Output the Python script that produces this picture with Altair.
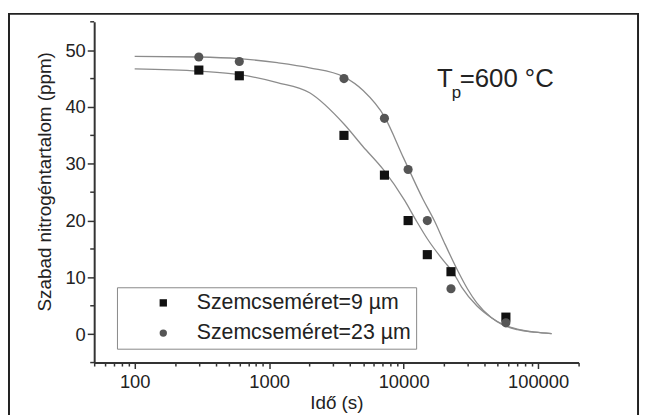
import altair as alt
import pandas as pd

times = [300, 600, 3600, 7200, 10800, 15000, 22500, 57600]
conc_9um = [46.5, 45.5, 35.0, 28.0, 20.0, 14.0, 11.0, 3.0]
conc_23um = [48.8, 48.0, 45.0, 38.0, 29.0, 20.0, 8.0, 2.0]

# ---- fitted curves ----
fit9_t = [100, 300, 600, 1150, 2000, 3600, 5000, 7050, 10200, 12400, 15000,
          20000, 23300, 27000, 35000, 45000, 55000, 70000, 95000, 126000]
fit9_c = [46.7, 46.3, 45.7, 44.3, 42.5, 37.0, 33.0, 29.0, 23.5, 20.0, 16.8,
          12.8, 10.9, 8.3, 5.0, 2.9, 1.7, 0.9, 0.35, 0.1]
fit23_t = [100, 300, 600, 1150, 2000, 3600, 5000, 7200, 10000, 13900, 16900,
           20000, 25600, 29800, 35000, 45000, 55000, 70000, 95000, 126000]
fit23_c = [48.9, 48.8, 48.5, 47.8, 46.9, 45.3, 42.9, 38.3, 31.0, 23.8, 20.0,
           16.2, 10.9, 8.0, 5.5, 2.9, 1.6, 0.8, 0.35, 0.1]

label9 = "Szemcseméret=9 µm"
label23 = "Szemcseméret=23 µm"

x_ticks = [50, 60, 70, 80, 90, 100, 200, 300, 400, 500, 600, 700, 800, 900,
           1000, 2000, 3000, 4000, 5000, 6000, 7000, 8000, 9000,
           10000, 20000, 30000, 40000, 50000, 60000, 70000, 80000, 90000,
           100000, 200000]
y_major = [0, 10, 20, 30, 40, 50]
y_minor = [-5, 5, 15, 25, 35, 45, 55]

FONT = "Liberation Sans"
INK = "#222222"

points = pd.DataFrame({
    "t": times + times,
    "c": conc_9um + conc_23um,
    "series": [label9] * len(times) + [label23] * len(times),
})
fits = pd.DataFrame({
    "t": fit9_t + fit23_t,
    "c": fit9_c + fit23_c,
    "series": [label9] * len(fit9_t) + [label23] * len(fit23_t),
})
minor = pd.DataFrame({"c": y_minor})
one = pd.DataFrame({"a": [0]})

x_scale = alt.Scale(type="log", domain=[50, 200000], nice=False)
y_scale = alt.Scale(domain=[-5, 55], nice=False, zero=False)

x_axis = alt.Axis(
    title="Idő (s)", values=x_ticks, grid=False,
    labelExpr="(datum.value==100||datum.value==1000||datum.value==10000||datum.value==100000) ? datum.label : ''",
    format="d",
    tickSize={"condition": {"test": "datum.value==100||datum.value==1000||datum.value==10000||datum.value==100000", "value": 6}, "value": 3.5},
    domainColor="#333333", domainWidth=2, tickColor="#333333", tickWidth=1.5,
    labelFont=FONT, labelFontSize=18.5, labelColor=INK, labelPadding=4, labelFlush=False,
    titleFont=FONT, titleFontSize=19, titleFontWeight="normal", titleColor=INK,
    titleY=31, titleBaseline="top",
)
y_axis = alt.Axis(
    title="Szabad nitrogéntartalom (ppm)", values=y_major, grid=False,
    tickSize=7,
    domainColor="#333333", domainWidth=2, tickColor="#333333", tickWidth=1.5,
    labelFont=FONT, labelFontSize=18.5, labelColor=INK, labelPadding=2, labelFlush=False,
    titleFont=FONT, titleFontSize=19, titleFontWeight="normal", titleColor=INK,
    titleX=-40, titleY=161,
)

frame = alt.Chart(one).mark_rect(fillOpacity=0, stroke="#222222", strokeWidth=2).encode(
    x=alt.value(-86), x2=alt.value(549), y=alt.value(-8), y2=alt.value(440)
)

lines = alt.Chart(fits).mark_line(color="#8c8c8c", strokeWidth=1.3, interpolate="monotone").encode(
    x=alt.X("t:Q", scale=x_scale, axis=x_axis),
    y=alt.Y("c:Q", scale=y_scale, axis=y_axis),
    detail="series:N",
)

minor_ticks = alt.Chart(minor).mark_rule(color="#333333", strokeWidth=1.5).encode(
    y=alt.Y("c:Q", scale=y_scale),
    x=alt.value(-4), x2=alt.value(0),
)

pts = alt.Chart(points).mark_point(filled=True, size=85, opacity=1).encode(
    x=alt.X("t:Q", scale=x_scale),
    y=alt.Y("c:Q", scale=y_scale),
    color=alt.Color("series:N",
                    scale=alt.Scale(domain=[label9, label23], range=["#111111", "#555555"]),
                    legend=alt.Legend(
                        title=None, orient="none", legendX=23, legendY=268,
                        strokeColor="#888888", fillColor="white", padding=5,
                        symbolOffset=31, labelOffset=23, rowPadding=7.5,
                        symbolSize=55, symbolStrokeWidth=0,
                        labelFont=FONT, labelFontSize=21.5, labelColor=INK,
                        labelLimit=400,
                    )),
    shape=alt.Shape("series:N",
                    scale=alt.Scale(domain=[label9, label23], range=["square", "circle"]),
                    legend=None),
)

t_main = alt.Chart(one).mark_text(text="T", font=FONT, fontSize=26, color=INK, align="left", baseline="alphabetic").encode(
    x=alt.value(346), y=alt.value(66))
t_sub = alt.Chart(one).mark_text(text="p", font=FONT, fontSize=17, color=INK, align="left", baseline="alphabetic").encode(
    x=alt.value(361), y=alt.value(77))
t_rest = alt.Chart(one).mark_text(text="=600 °C", font=FONT, fontSize=26, color=INK, align="left", baseline="alphabetic").encode(
    x=alt.value(369), y=alt.value(66))

chart = alt.layer(frame, lines, minor_ticks, pts, t_main, t_sub, t_rest).properties(
    width=489, height=344,
    padding={"left": 87, "top": 12, "right": 63, "bottom": 51},
    autosize=alt.AutoSizeParams(type="none"),
    background="white",
).configure_view(stroke=None)

chart.save("out.html", embed_options={"renderer": "svg", "actions": False})
